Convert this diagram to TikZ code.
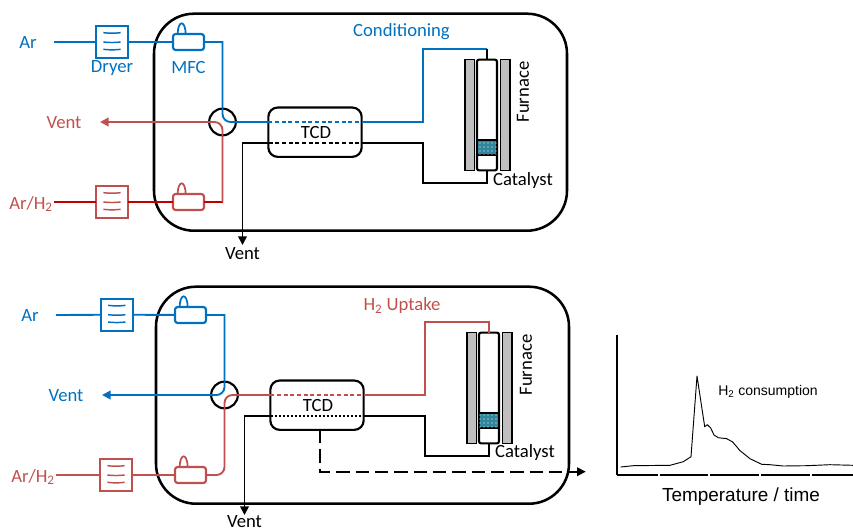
\documentclass[tikz,border=0pt]{standalone}
\usepackage{fontspec}
\setmainfont{Carlito}
\newfontfamily\plotfont{Liberation Sans}
\usetikzlibrary{arrows.meta,patterns}

\definecolor{flowblue}{HTML}{0070C0}
\definecolor{flowred}{HTML}{C0504D}
\definecolor{deepred}{HTML}{C00000}
\definecolor{wallgray}{HTML}{BFBFBF}
\definecolor{bedteal}{HTML}{31859C}

\tikzset{
  part/.style={draw,fill=white,inner sep=0pt,outer sep=0pt},
  rigbox/.style={part,fill=none,line width=1.9pt,rounded corners=30pt,minimum width=309.75pt,minimum height=162.75pt},
  dryerbox/.style={part,line width=1.3pt,minimum size=24pt},
  mfcbox/.style={part,line width=1.6pt,rounded corners=2pt,minimum width=23.25pt,minimum height=12pt},
  valvering/.style={part,circle,line width=1.6pt,minimum size=20pt},
  tcdbox/.style={part,line width=1.6pt,rounded corners=7pt,minimum width=70pt,minimum height=37pt},
  wallbar/.style={part,fill=wallgray,line width=1.2pt,minimum width=7pt,minimum height=83pt},
  tubebox/.style={part,line width=1.6pt,rounded corners=1.5pt,minimum width=15pt,minimum height=83pt},
  bedbox/.style={part,line width=1.2pt,fill=bedteal,minimum width=15pt,minimum height=11pt,postaction={pattern=dots,pattern color=white}},
  lbl/.style={inner sep=0pt,outer sep=0pt,font=\fontsize{14}{16}\selectfont},
  flow/.style={line width=1.4pt},
  thinline/.style={line width=1.2pt},
  tip/.style={-{Triangle[length=6.5pt,width=6.5pt]}},
}

\begin{document}
\begin{tikzpicture}[x=0.75pt,y=-0.75pt]
\useasboundingbox (0,0) rectangle (853,531);

% conditioning
\begin{scope}
\node[rigbox] (Rig) at (360.5,122.2) {};
\node[valvering] (Valve) at (222.5,122) {};
\node[tcdbox] (TCD) at (315,132.2) {};
\node[lbl] (TCDname) at (316,132.5) {TCD};

\node[dryerbox,draw=flowblue] (DryA) at (112,42) {};
\node[dryerbox,draw=flowred] (DryB) at (112,202) {};
\node[mfcbox,draw=flowblue] (MFCA) at (188.5,42) {};
\node[mfcbox,draw=flowred] (MFCB) at (188.5,202) {};

\foreach \n/\c in {DryA/flowblue,DryB/flowred}
{
  \draw[\c,line width=1.1pt] ([shift={(-6.5pt,7pt)}]\n.center) to[bend right=6] ([shift={(6.5pt,7pt)}]\n.center);
  \draw[\c,line width=1.1pt] ([shift={(-6.5pt,0pt)}]\n.center) to[bend right=6] ([shift={(6.5pt,0pt)}]\n.center);
  \draw[\c,line width=1.1pt] ([shift={(-6.5pt,-5.5pt)}]\n.center) to[bend right=6] ([shift={(6.5pt,-5.5pt)}]\n.center);
}
\foreach \n/\c in {MFCA/flowblue,MFCB/flowred}
{
  \draw[\c,line width=1.3pt] ([xshift=3.5pt]\n.north west) arc[start angle=180,end angle=0,x radius=3pt,y radius=8pt];
}

\coordinate (ArEnd) at (54,42);
\coordinate (MixEnd) at (54,202);
\coordinate (TurnB) at (222.5,202);
\coordinate (VentEnd) at (100,122);
\coordinate (FlowA) at (TCD.west |- Valve.center);
\coordinate (FlowB) at (TCD.east |- Valve.center);
\coordinate (ExitA) at (268.5,143);
\coordinate (ExitB) at (361.7,143);
\coordinate (ColA) at (423,48.7);
\coordinate (ColB) at (423,183);
\coordinate (DownEnd) at (242.5,245);

\node[wallbar] (WallL) at (469.7,115) {};
\node[wallbar] (WallR) at (505.2,115) {};
\node[tubebox] (Tube) at (487,115) {};
\node[bedbox] (Bed) at (487,147.5) {};

\draw[flowblue,flow] (ArEnd) -- (DryA);
\draw[flowblue,flow] (DryA) -- (MFCA);
\draw[flowblue,flow] (MFCA.east) -| (Valve.north) [rounded corners=6pt] -- (Valve.center) -- (FlowA);
\draw[flowblue,flow,dash pattern=on 3pt off 2pt] (FlowA) -- (FlowB);
\draw[flowblue,flow] (FlowB) -| (ColA) -- (ColA -| Tube.north);
\draw[thinline] (ColA -| Tube.north) -- (Tube.north);

\draw[deepred,flow] (MixEnd) -- (DryB);
\draw[deepred,flow] (DryB) -- (MFCB);
\draw[deepred,flow] (MFCB) -- (TurnB);
\draw[flowred,flow,rounded corners=6pt,tip] (TurnB) -- (Valve.center) -- (VentEnd);

\draw[thinline,tip] (ExitA) -| (DownEnd);
\draw[thinline,dash pattern=on 3pt off 2pt] (ExitA) -- (ExitB);
\draw[thinline] (ExitB) -| (ColB) -- (ColB -| Tube.south) -- (Tube.south);

\node[lbl,flowblue] (ArName) at (28,43) {Ar};
\node[lbl,flowblue] (DryName) at (112,68.5) {Dryer};
\node[lbl,flowblue] (MFCName) at (188.5,68) {MFC};
\node[lbl,flowred] (VentRed) at (64,123) {Vent};
\node[lbl,flowred] (MixName) at (31,204) {Ar/H\textsubscript{2}};
\node[lbl,flowblue] (ModeName) at (401.5,31.5) {Conditioning};
\node[lbl,rotate=90] (FurnName) at (523,92) {Furnace};
\node[lbl] (CatName) at (523,180.5) {Catalyst};
\node[lbl] (VentBlack) at (242.5,254) {Vent};
\end{scope}

% uptake
\begin{scope}[shift={(2,273)}]
\node[rigbox] (Rig) at (360.5,122.2) {};
\node[valvering] (Valve) at (222.5,122) {};
\node[tcdbox] (TCD) at (315,132.2) {};
\node[lbl] (TCDname) at (316,132.5) {TCD};

\node[dryerbox,draw=flowblue] (DryA) at (114.8,41.7) {};
\node[dryerbox,draw=flowred] (DryB) at (114,202) {};
\node[mfcbox,draw=flowblue] (MFCA) at (188.5,42) {};
\node[mfcbox,draw=flowred] (MFCB) at (188.5,202) {};

\foreach \n/\c in {DryA/flowblue,DryB/flowred}
{
  \draw[\c,line width=1.1pt] ([shift={(-6.5pt,7pt)}]\n.center) to[bend right=6] ([shift={(6.5pt,7pt)}]\n.center);
  \draw[\c,line width=1.1pt] ([shift={(-6.5pt,0pt)}]\n.center) to[bend right=6] ([shift={(6.5pt,0pt)}]\n.center);
  \draw[\c,line width=1.1pt] ([shift={(-6.5pt,-5.5pt)}]\n.center) to[bend right=6] ([shift={(6.5pt,-5.5pt)}]\n.center);
}
\foreach \n/\c in {MFCA/flowblue,MFCB/flowred}
{
  \draw[\c,line width=1.3pt] ([xshift=3.5pt]\n.north west) arc[start angle=180,end angle=0,x radius=3pt,y radius=8pt];
}

\coordinate (ArEnd) at (54,42);
\coordinate (MixEnd) at (54,202);
\coordinate (VentEnd) at (100,122);
\coordinate (FlowA) at (TCD.west |- Valve.center);
\coordinate (FlowB) at (TCD.east |- Valve.center);
\coordinate (ExitA) at (268.5,143);
\coordinate (ExitB) at (361.7,143);
\coordinate (ColA) at (423,48.7);
\coordinate (ColB) at (423,183);
\coordinate (DownEnd) at (242.5,242);
\coordinate (SignalA) at (318,157);
\coordinate (SignalB) at (318,198.7);
\coordinate (SignalEnd) at (583.7,198.7);

\node[wallbar] (WallL) at (469.7,115) {};
\node[wallbar] (WallR) at (505.2,115) {};
\node[tubebox] (Tube) at (487,115) {};
\node[bedbox] (Bed) at (487,147.5) {};

\draw[flowblue,flow] (ArEnd) -- (DryA);
\draw[flowblue,flow] (DryA) -- (MFCA);
\draw[flowblue,flow,tip] (MFCA.east) -| (Valve.north) [rounded corners=6pt] -- (Valve.center) -- (VentEnd);

\draw[flowred,flow] (MixEnd) -- (DryB);
\draw[flowred,flow] (DryB) -- (MFCB);
\draw[flowred,flow,rounded corners=6pt] (MFCB.east) -| (Valve.center) -- (FlowA);
\draw[flowred,flow,dash pattern=on 3pt off 2pt] (FlowA) -- (FlowB);
\draw[flowred,flow] (FlowB) -| (ColA) -| (Tube.north);

\draw[thinline,tip] (ExitA) -| (DownEnd);
\draw[thinline,dash pattern=on 1.5pt off 1.5pt] (ExitA) -- (ExitB);
\draw[thinline] (ExitB) -| (ColB) -- (ColB -| Tube.south) -- (Tube.south);

\draw[line width=1.5pt,dash pattern=on 10pt off 4.5pt] (SignalA) -- (SignalB) -- (SignalEnd);
\draw[thinline,tip] ([xshift=-9pt]SignalEnd) -- (SignalEnd);

\node[lbl,flowblue] (ArName) at (28,43) {Ar};
\node[lbl,flowblue] (VentBlue) at (64,123) {Vent};
\node[lbl,flowred] (MixName) at (31,204) {Ar/H\textsubscript{2}};
\node[lbl,flowred] (ModeName) at (400,33) {H\textsubscript{2} Uptake};
\node[lbl,rotate=90] (FurnName) at (524,92) {Furnace};
\node[lbl] (CatName) at (523,180) {Catalyst};
\node[lbl] (VentBlack) at (242.5,249) {Vent};
\end{scope}

% trace
\draw[line width=1.6pt] (617.3,335) -- (617.3,475);
\foreach \a/\b in {617/657.5,659.5/708,710/758.5,760.5/809.5,811.5/853}
{
  \draw[line width=1.6pt] (\a,475) -- (\b,475);
}
\draw[line width=0.7pt,line join=round] plot coordinates {(620.7,467) (633.3,465.7) (670,465.3) (683.3,461.7) (691,456.7) (697,376) (704.7,426.7) (707.3,424.7) (710.7,428) (714,435) (718.3,437.7) (726.7,438.7) (732.7,442) (740,450.7) (750,458.7) (761.7,464.3) (770,464.7) (783.3,466) (806.7,465.7) (830,464.7) (853,465.3)};
\node[inner sep=0pt,font=\plotfont\fontsize{10.5}{12}\selectfont] (PeakName) at (768,391.7) {H\textsubscript{2} consumption};
\node[inner sep=0pt,font=\plotfont\fontsize{14.2}{16}\selectfont] (AxisName) at (741,496.7) {Temperature / time};

\end{tikzpicture}
\end{document}
